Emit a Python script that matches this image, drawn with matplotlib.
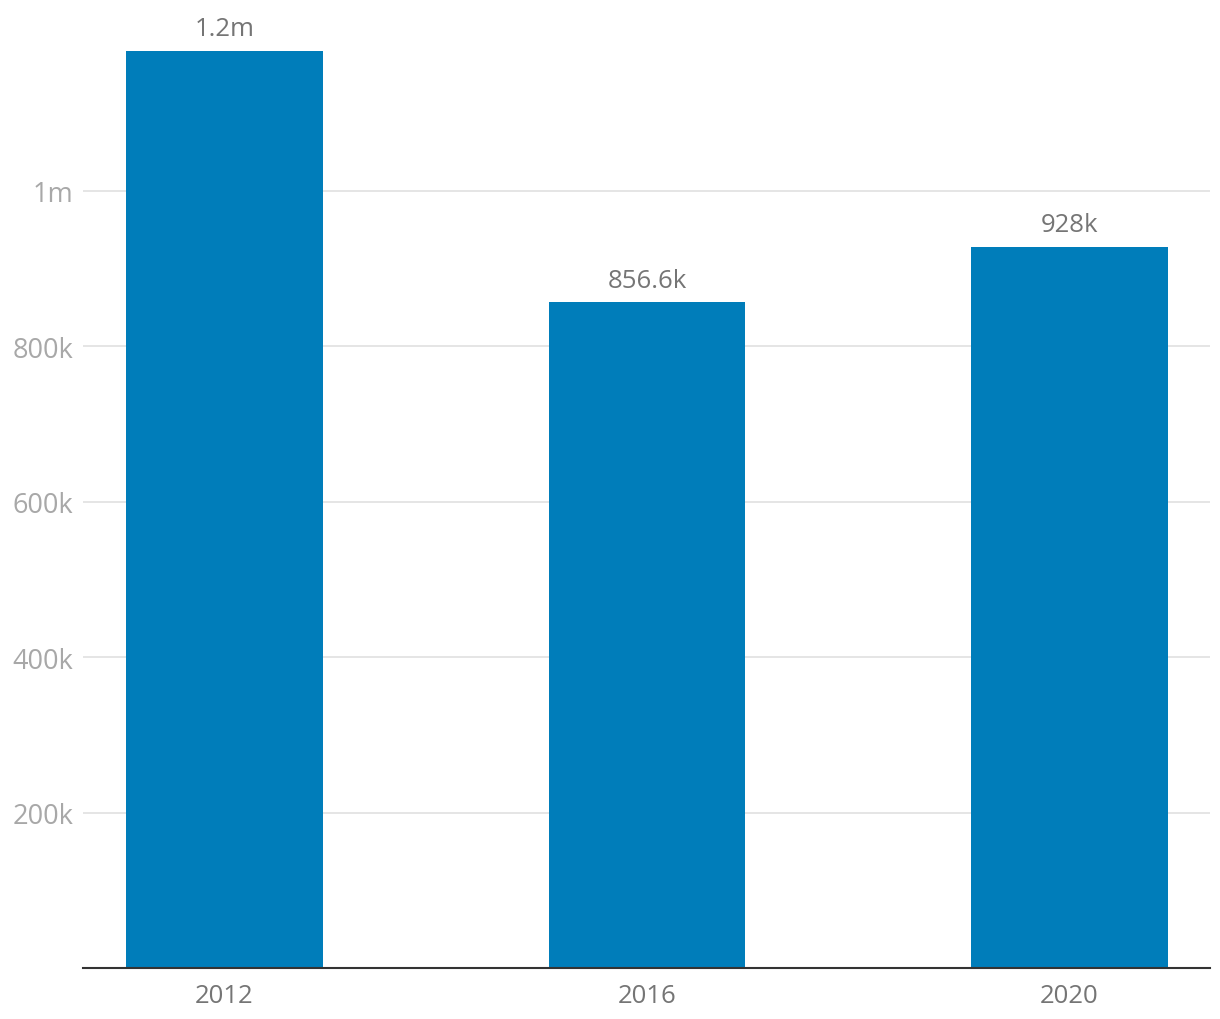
import matplotlib.pyplot as plt
from matplotlib.ticker import FixedLocator

years = ['2012', '2016', '2020']
values = [1180000, 856600, 928000]
value_labels = ['1.2m', '856.6k', '928k']
y_ticks = [200000, 400000, 600000, 800000, 1000000]
y_tick_labels = ['200k', '400k', '600k', '800k', '1m']

plt.rcParams['font.family'] = ['Open Sans', 'DejaVu Sans']

fig = plt.figure(figsize=(12.2, 10.2), dpi=100)
ax = fig.add_axes([83/1220, 51/1020, 1127/1220, 969/1020])

x = list(range(len(years)))
ax.bar(x, values, width=0.466, color='#007dba', zorder=2)

for xi, v, lab in zip(x, values, value_labels):
    ax.annotate(lab, (xi, v), xytext=(0, 7), textcoords='offset points',
                ha='center', va='bottom', fontsize=18.5, color='#757575')

ax.set_xlim(-0.335, 2.333)
ax.set_ylim(0, 1247000)

ax.yaxis.set_major_locator(FixedLocator(y_ticks))
ax.set_yticklabels(y_tick_labels)
ax.set_xticks(x)
ax.set_xticklabels(years)

ax.grid(axis='y', color='#e3e3e3', linewidth=1.3, zorder=0)
ax.tick_params(axis='y', length=0, pad=7, labelsize=19.5, labelcolor='#a8a8a8')
ax.tick_params(axis='x', length=0, pad=11, labelsize=18.5, labelcolor='#757575')

for s in ['top', 'right', 'left']:
    ax.spines[s].set_visible(False)
ax.spines['bottom'].set_color('#333333')
ax.spines['bottom'].set_linewidth(1.5)
ax.spines['bottom'].set_zorder(3)

plt.savefig('out.png', dpi=100)
